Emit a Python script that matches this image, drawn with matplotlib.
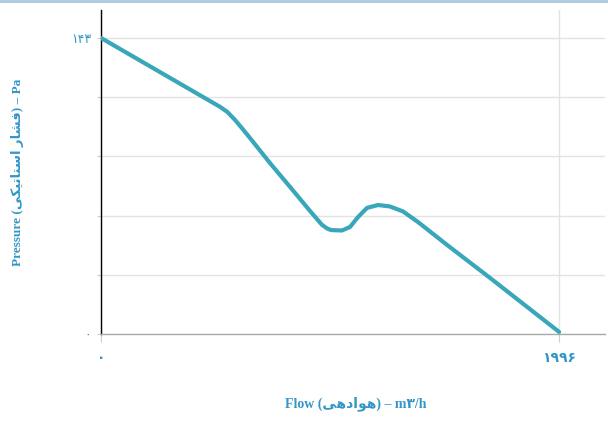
import matplotlib
matplotlib.use('Agg')
import matplotlib.pyplot as plt
import numpy as np

# Flow (m3/h) and static pressure (Pa)
vFlow = [0, 519, 550, 584, 615, 649, 736, 824, 911, 963, 985, 1002, 1050,
         1085, 1120, 1159, 1207, 1259, 1316, 1381, 1508, 1695, 1996]
vPres = [143, 109.7, 107.3, 103.4, 99.3, 94.7, 82.6, 71.0, 59.4, 52.7, 51.0,
         50.2, 50.0, 51.7, 56.5, 60.9, 62.3, 61.6, 59.2, 54.1, 43.0, 27.1, 1.0]

xTicks = [0, 1996]
xTickLabels = ['\u06f0', '\u06f1\u06f9\u06f9\u06f6']            # ۰  ۱۹۹۶
yTickLabels = ['\u06f0', '', '', '', '', '\u06f1\u06f4\u06f3']  # ۰ ... ۱۴۳
yMax = 143

# Persian words, written in visual order with presentation forms
sHavadehi = '\uFEF0\uFEEB\uFEA9\uFE8D\uFEEE\uFEEB'               # هوادهی
sFeshar = '\uFEAD\uFE8E\uFEB8\uFED3'                             # فشار
sEstatiki = '\uFEF0\uFEDC\uFEF4\uFE97\uFE8E\uFE98\uFEB3\uFE8D'   # استاتیکی

xLabel = 'Flow (' + sHavadehi + ') \u2013 m\u06f3/h'
yLabel = 'Pressure (' + sEstatiki + ' ' + sFeshar + ') \u2013 Pa'

cLine = '#38a7ba'
cText = '#3496c8'
lFonts = ['Liberation Serif', 'DejaVu Sans']

hFig = plt.figure(figsize=(6.08, 4.37), dpi=100)
hAx = hFig.add_axes([101/608, 1 - 334/437, 504/608, 324/437])

hAx.plot(vFlow, vPres, color=cLine, linewidth=3.0, solid_capstyle='round',
         solid_joinstyle='round', zorder=3)

hAx.set_xlim(0, 2196)
hAx.set_ylim(0, 156.5)

hAx.set_yticks(np.linspace(0, yMax, 6))
hAx.set_yticklabels(yTickLabels, color=cText, fontsize=9, family='DejaVu Sans')
hAx.set_xticks(xTicks)
hAx.set_xticklabels(xTickLabels, color=cText, fontsize=10, fontweight='bold',
                    family='DejaVu Sans')
hAx.tick_params(axis='y', length=3, color='#cccccc', pad=4)
hAx.tick_params(axis='x', length=6, color='#cccccc', pad=6)

hAx.grid(True, color='#e3e3e3', linewidth=1.0)
hAx.set_axisbelow(True)

for sSide in ['top', 'right']:
    hAx.spines[sSide].set_visible(False)
hAx.spines['left'].set_color('black')
hAx.spines['left'].set_linewidth(1.0)
hAx.spines['bottom'].set_color('#aaaaaa')
hAx.spines['bottom'].set_linewidth(1.0)

hFig.text(356/608, 1 - 404/437, xLabel, ha='center', va='center',
          color=cText, fontsize=10, fontweight='bold', family=lFonts)
hFig.text(18/608, 1 - 172/437, yLabel, ha='center', va='center', rotation=90,
          color=cText, fontsize=9.5, fontweight='bold', family=lFonts)

# thin light-blue frame line at the top of the picture
hFig.add_artist(plt.Line2D([0, 1], [0.998, 0.998], color='#a9c9dc',
                           linewidth=2, transform=hFig.transFigure))

hFig.savefig('out.png', dpi=100)
